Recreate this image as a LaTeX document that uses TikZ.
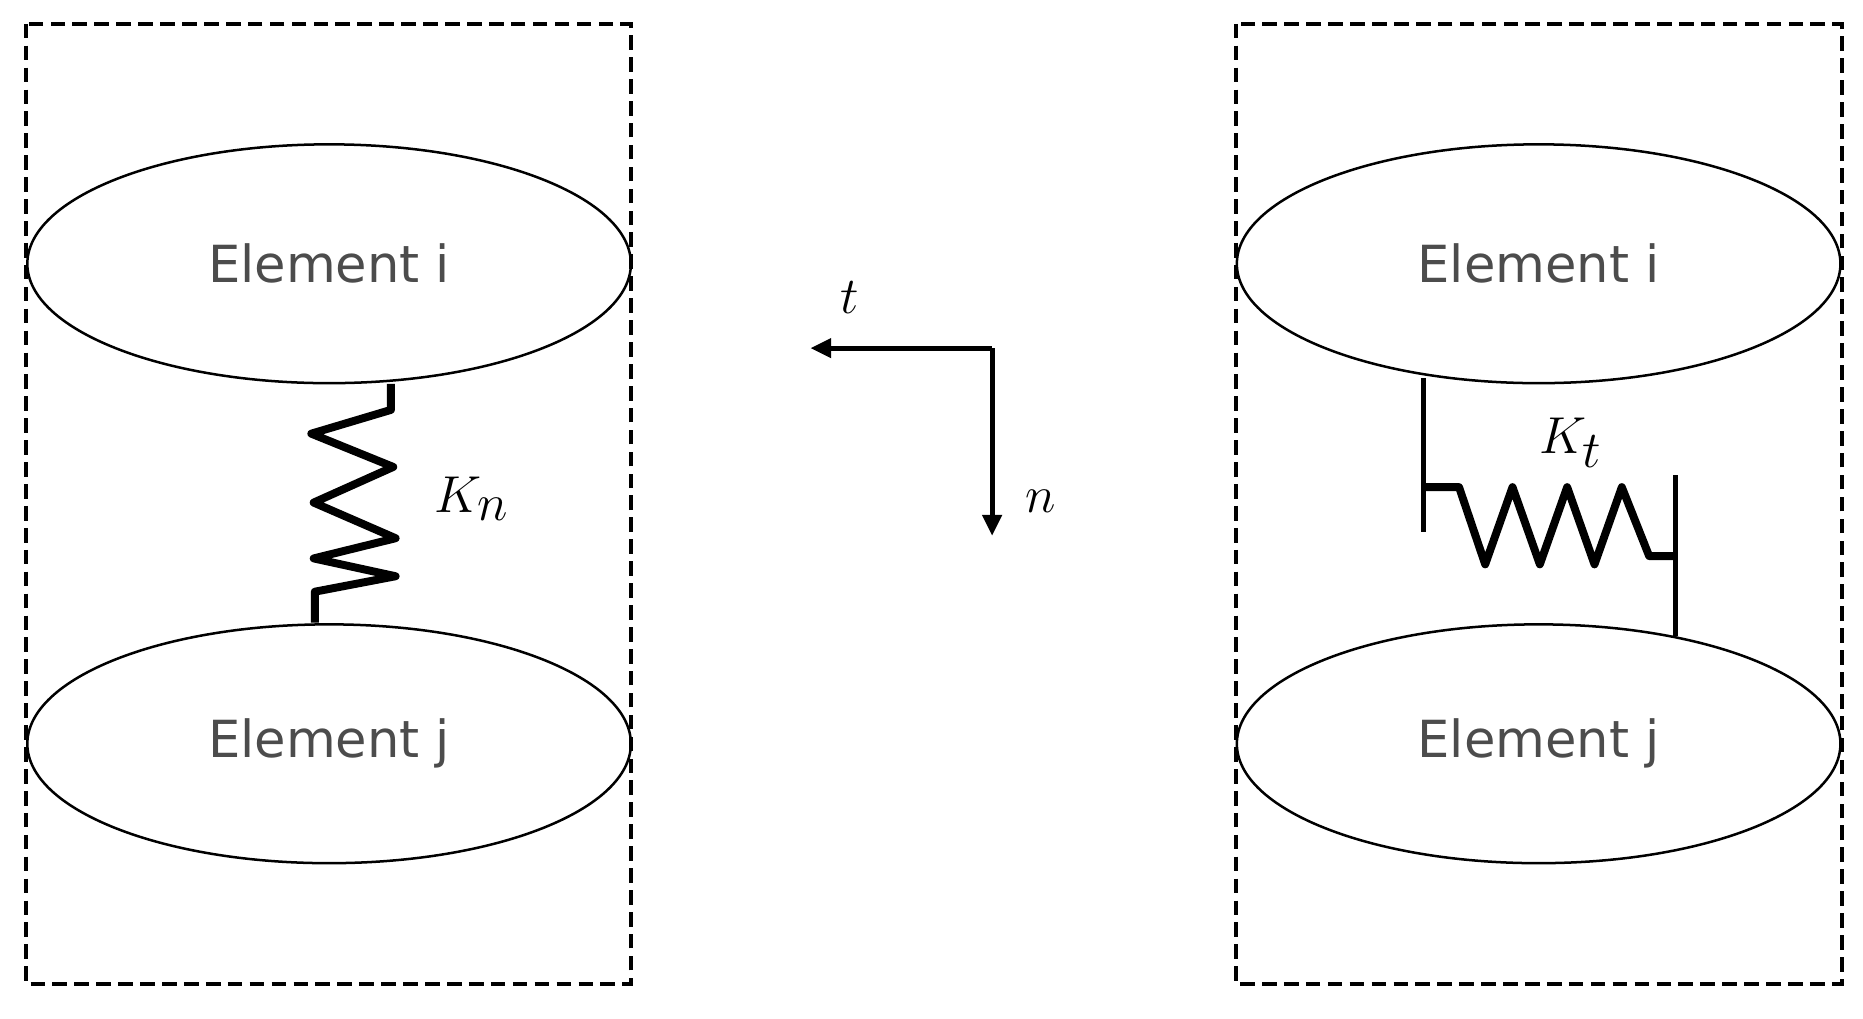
\documentclass[tikz,border=0pt]{standalone}
\usepackage{fontspec}
\setmainfont{DejaVu Sans}
\usetikzlibrary{shapes.geometric,arrows.meta}
\begin{document}
\begin{tikzpicture}[x=0.02cm,y=-0.02cm,
  box/.style={draw,line width=2pt,dash pattern=on 7pt off 3.5pt},
  el/.style={draw,ellipse,line width=1.2pt,minimum width=508*0.02cm,minimum height=201*0.02cm,inner sep=0pt,text=black!70,font=\fontsize{24.5}{28}\selectfont},
  spr/.style={line width=3.8pt,line join=round},
  thin/.style={line width=2.4pt},
  lab/.style={font=\fontsize{34}{38}\selectfont}]
\useasboundingbox (0,0) rectangle (1568,857);
\draw[box] (22,20) rectangle (531,828);
\draw[box] (1040,20) rectangle (1550,828);
\node[el] (li) at (277,222) {Element i};
\node[el] (lj) at (277,626) {Element j};
\node[el] (ri) at (1295,222) {Element i};
\node[el] (rj) at (1295,626) {Element j};
% left spring
\coordinate (s1) at (329,323);
\coordinate (s2) at (265,524);
\draw[spr] (s1) -- (329,345) -- (262,365) -- (331,393) -- (264,423) -- (333,453) -- (264,470) -- (333,485) -- (265,498) -- (s2);
\node[lab] (kn) at (397,420) {$K_n$};
% axes
\coordinate (o) at (835,293);
\coordinate (ta) at (682,293);
\coordinate (na) at (835,451);
\draw[thin,-{Triangle[length=10pt,width=9pt]}] (o) -- (ta);
\draw[thin,-{Triangle[length=10pt,width=9pt]}] (o) -- (na);
\node[lab] (t) at (715,250) {$t$};
\node[lab] (n) at (876,422) {$n$};
% right spring
\coordinate (v1a) at (1198,318);
\coordinate (v1b) at (1198,448);
\coordinate (v2a) at (1410,400);
\coordinate (v2b) at (1410,535);
\draw[thin] (v1a) -- (v1b);
\draw[thin] (v2a) -- (v2b);
\draw[spr] (1198,410) -- (1228,410) -- (1250,475) -- (1273,410) -- (1296,475) -- (1319,410) -- (1342,475) -- (1365,410) -- (1388,468) -- (1410,468);
\node[lab] (kt) at (1322,373) {$K_t$};
\end{tikzpicture}
\end{document}
